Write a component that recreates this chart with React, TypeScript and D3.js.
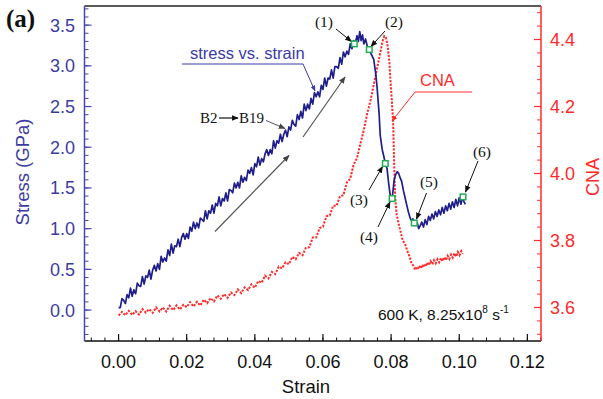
import React from "react";
import * as d3 from "d3";

// ---------- data ----------
const stressStrain = [
  0, 0.0005, 0.001, 0.0015, 0.002, 0.0025, 0.003, 0.0035, 0.004, 0.0045,
  0.005, 0.0055, 0.006, 0.0065, 0.007, 0.0075, 0.008, 0.0085, 0.009, 0.0095,
  0.01, 0.0105, 0.011, 0.0115, 0.012, 0.0125, 0.013, 0.0135, 0.014, 0.0145,
  0.015, 0.0155, 0.016, 0.0165, 0.017, 0.0175, 0.018, 0.0185, 0.019, 0.0195,
  0.02, 0.0205, 0.021, 0.0215, 0.022, 0.0225, 0.023, 0.0235, 0.024, 0.0245,
  0.025, 0.0255, 0.026, 0.0265, 0.027, 0.0275, 0.028, 0.0285, 0.029, 0.0295,
  0.03, 0.0305, 0.031, 0.0315, 0.032, 0.0325, 0.033, 0.0335, 0.034, 0.0345,
  0.035, 0.0355, 0.036, 0.0365, 0.037, 0.0375, 0.038, 0.0385, 0.039, 0.0395,
  0.04, 0.0405, 0.041, 0.0415, 0.042, 0.0425, 0.043, 0.0435, 0.044, 0.0445,
  0.045, 0.0455, 0.046, 0.0465, 0.047, 0.0475, 0.048, 0.0485, 0.049, 0.0495,
  0.05, 0.0505, 0.051, 0.0515, 0.052, 0.0525, 0.053, 0.0535, 0.054, 0.0545,
  0.055, 0.0555, 0.056, 0.0565, 0.057, 0.0575, 0.058, 0.0585, 0.059, 0.0595,
  0.06, 0.0605, 0.061, 0.0615, 0.062, 0.0625, 0.063, 0.0635, 0.064, 0.0645,
  0.065, 0.0655, 0.066, 0.0665, 0.067, 0.0675, 0.068, 0.0685, 0.069, 0.0695,
  0.07, 0.0704, 0.0708, 0.0712, 0.0716, 0.072, 0.0725, 0.073, 0.0736, 0.0742,
  0.0749, 0.0755, 0.0759, 0.0765, 0.0768, 0.0774, 0.0779, 0.0783, 0.0788, 0.0793,
  0.0798, 0.0803, 0.0806, 0.0809, 0.0813, 0.0818, 0.0822, 0.0827, 0.0831, 0.0836,
  0.0841, 0.0847, 0.0851, 0.0856, 0.086, 0.0864, 0.0868, 0.0872, 0.0877, 0.0881,
  0.0886, 0.089, 0.0895, 0.09, 0.0905, 0.091, 0.0915, 0.092, 0.0925, 0.093,
  0.0935, 0.094, 0.0945, 0.095, 0.0955, 0.096, 0.0965, 0.097, 0.0975, 0.098,
  0.0985, 0.099, 0.0995, 0.1, 0.1005, 0.101, 0.1014, 0.1018,
];
const stressValues = [
  0.03, 0.03, 0.14, 0.12, 0.08, 0.19, 0.15, 0.27, 0.17, 0.25,
  0.2, 0.33, 0.3, 0.29, 0.41, 0.32, 0.42, 0.4, 0.49, 0.38,
  0.49, 0.55, 0.48, 0.57, 0.5, 0.66, 0.59, 0.64, 0.6, 0.74,
  0.67, 0.81, 0.7, 0.79, 0.78, 0.87, 0.78, 0.89, 0.94, 0.87,
  0.94, 0.88, 1.02, 0.97, 1.08, 1.0, 1.07, 1.01, 1.13, 1.11,
  1.09, 1.22, 1.12, 1.22, 1.19, 1.29, 1.19, 1.31, 1.28, 1.39,
  1.28, 1.37, 1.34, 1.44, 1.34, 1.48, 1.47, 1.44, 1.56, 1.5,
  1.57, 1.5, 1.65, 1.57, 1.63, 1.59, 1.72, 1.68, 1.75, 1.66,
  1.8, 1.76, 1.88, 1.78, 1.86, 1.82, 1.92, 1.97, 1.9, 1.97,
  1.92, 2.08, 1.99, 2.08, 2.05, 2.16, 2.07, 2.16, 2.21, 2.13,
  2.25, 2.21, 2.33, 2.28, 2.26, 2.4, 2.34, 2.44, 2.36, 2.53,
  2.45, 2.53, 2.47, 2.6, 2.53, 2.67, 2.62, 2.68, 2.62, 2.76,
  2.71, 2.85, 2.75, 2.85, 2.84, 2.95, 2.85, 2.99, 2.99, 2.97,
  3.1, 3.02, 3.17, 3.11, 3.18, 3.14, 3.27, 3.21, 3.31, 3.28,
  3.37, 3.3, 3.42, 3.31, 3.38, 3.27, 3.33, 3.24, 3.2, 3.14,
  3.08, 2.9, 2.73, 2.4, 2.15, 1.97, 1.88, 1.8, 1.74, 1.55,
  1.39, 1.37, 1.48, 1.6, 1.66, 1.7, 1.68, 1.62, 1.58, 1.47,
  1.38, 1.27, 1.2, 1.13, 1.1, 1.12, 1.07, 1.04, 1.07, 1.0,
  1.04, 1.08, 1.02, 1.11, 1.05, 1.15, 1.1, 1.18, 1.12, 1.21,
  1.15, 1.23, 1.17, 1.26, 1.19, 1.28, 1.22, 1.31, 1.24, 1.33,
  1.26, 1.36, 1.28, 1.38, 1.3, 1.39, 1.33, 1.3,
];

const cnaStrain = [
  0, 0.001, 0.002, 0.003, 0.004, 0.005, 0.006, 0.007, 0.008, 0.009,
  0.01, 0.011, 0.012, 0.013, 0.014, 0.015, 0.016, 0.017, 0.018, 0.019,
  0.02, 0.021, 0.022, 0.023, 0.024, 0.025, 0.026, 0.027, 0.028, 0.029,
  0.03, 0.031, 0.032, 0.033, 0.034, 0.035, 0.036, 0.037, 0.038, 0.039,
  0.04, 0.041, 0.042, 0.043, 0.044, 0.045, 0.046, 0.047, 0.048, 0.049,
  0.05, 0.051, 0.052, 0.053, 0.054, 0.055, 0.056, 0.057, 0.058, 0.059,
  0.06, 0.061, 0.062, 0.063, 0.064, 0.065, 0.066, 0.067, 0.068, 0.069,
  0.07, 0.071, 0.072, 0.073, 0.074, 0.075, 0.076, 0.077, 0.0775, 0.078,
  0.0785, 0.079, 0.0795, 0.0798, 0.0802, 0.0806, 0.0809, 0.0812, 0.0816, 0.0822,
  0.0827, 0.0834, 0.0841, 0.0847, 0.0853, 0.0859, 0.0865, 0.0871, 0.0876, 0.0881,
  0.0886, 0.0891, 0.0896, 0.0901, 0.0906, 0.0911, 0.0916, 0.0921, 0.0926, 0.0931,
  0.0936, 0.0941, 0.0946, 0.0951, 0.0956, 0.0961, 0.0966, 0.0971, 0.0976, 0.0981,
  0.0986, 0.0991, 0.0996, 0.1001, 0.1006, 0.101,
];
const cnaValues = [
  3.576, 3.587, 3.577, 3.59, 3.578, 3.589, 3.579, 3.595, 3.585, 3.595,
  3.584, 3.6, 3.588, 3.6, 3.588, 3.605, 3.592, 3.606, 3.594, 3.608,
  3.601, 3.616, 3.603, 3.617, 3.606, 3.623, 3.613, 3.628, 3.618, 3.636,
  3.626, 3.64, 3.629, 3.645, 3.637, 3.654, 3.643, 3.66, 3.652, 3.669,
  3.659, 3.679, 3.674, 3.695, 3.687, 3.706, 3.7, 3.722, 3.717, 3.735,
  3.729, 3.751, 3.744, 3.763, 3.756, 3.778, 3.78, 3.809, 3.809, 3.837,
  3.841, 3.872, 3.875, 3.904, 3.904, 3.932, 3.935, 3.973, 3.984, 4.027,
  4.046, 4.09, 4.13, 4.18, 4.22, 4.27, 4.32, 4.37, 4.395, 4.41,
  4.405, 4.38, 4.33, 4.28, 4.22, 4.15, 4.03, 3.93, 3.88, 3.85,
  3.83, 3.8, 3.79, 3.77, 3.755, 3.735, 3.725, 3.712, 3.722, 3.715,
  3.726, 3.718, 3.73, 3.722, 3.734, 3.726, 3.738, 3.729, 3.741, 3.732,
  3.744, 3.735, 3.748, 3.738, 3.75, 3.741, 3.754, 3.745, 3.758, 3.749,
  3.762, 3.752, 3.766, 3.756, 3.768, 3.76,
];

const pointLabels = ["(1)", "(2)", "(3)", "(4)", "(5)", "(6)"];
const pointStrain = [0.0692, 0.0736, 0.0783, 0.0803, 0.0868, 0.1011];
const pointStress = [3.27, 3.2, 1.8, 1.37, 1.07, 1.39];

const xTicks = [0, 0.02, 0.04, 0.06, 0.08, 0.1, 0.12];
const stressTicks = [0, 0.5, 1, 1.5, 2, 2.5, 3, 3.5];
const cnaTicks = [3.6, 3.8, 4.0, 4.2, 4.4];

// ---------- layout ----------
const W = 603;
const H = 399;
const L = 84.5, R = 541, T = 6, B = 341;

const BLUE_AX = "#4848aa";
const BLUE_TXT = "#3c3ca0";
const BLUE_LINE = "#1f1f8c";
const RED = "#ff2a2a";
const SANS = "'Liberation Sans', Arial, sans-serif";
const SERIF = "'Liberation Serif', 'Times New Roman', serif";

export default function App() {
  const x = d3.scaleLinear().domain([-0.01, 0.124]).range([L, R]);
  const yS = d3.scaleLinear().domain([-0.38, 3.735]).range([B, T]);
  const yC = d3.scaleLinear().domain([3.5, 4.5]).range([B, T]);

  const stressLine = d3
    .line<number>()
    .x((_, i) => x(stressStrain[i]))
    .y((d) => yS(d));
  const cnaLine = d3
    .line<number>()
    .x((_, i) => x(cnaStrain[i]))
    .y((d) => yC(d));

  const xMinor = d3.range(-0.008, 0.1241, 0.004);
  const sMinor = d3.range(-0.3, 3.73, 0.1);
  const cMinor = d3.range(3.52, 4.5, 0.04);

  const annArrows: [number, number, number, number][] = [
    [336, 29, 351.5, 41.5],
    [385, 31, 371, 46.5],
    [369, 190, 382.5, 166.5],
    [378, 227, 390, 202],
    [426.5, 193, 416.5, 219],
    [478, 161, 465.5, 192],
  ];
  const annText: [number, number][] = [
    [324, 27],
    [394, 27],
    [359, 205],
    [369, 242],
    [429, 187],
    [482, 157],
  ];

  return (
    <svg
      width={W}
      height={H}
      style={{ position: "absolute", left: 0, top: 0, background: "#fff" }}
    >
      <defs>
        <marker id="ahK" viewBox="0 0 10 10" refX="9" refY="5" markerWidth="7" markerHeight="7" markerUnits="userSpaceOnUse" orient="auto">
          <path d="M0,1 L10,5 L0,9 z" fill="#111" />
        </marker>
        <marker id="ahG" viewBox="0 0 10 10" refX="9" refY="5" markerWidth="7" markerHeight="7" markerUnits="userSpaceOnUse" orient="auto">
          <path d="M0,1 L10,5 L0,9 z" fill="#444" />
        </marker>
        <marker id="ahB" viewBox="0 0 10 10" refX="9" refY="5" markerWidth="6" markerHeight="6" markerUnits="userSpaceOnUse" orient="auto">
          <path d="M0,1 L10,5 L0,9 z" fill="#3a3aa8" />
        </marker>
        <marker id="ahR" viewBox="0 0 10 10" refX="9" refY="5" markerWidth="6" markerHeight="6" markerUnits="userSpaceOnUse" orient="auto">
          <path d="M0,1 L10,5 L0,9 z" fill={RED} />
        </marker>
      </defs>

      {/* frame top */}
      <line x1={L} x2={R} y1={T} y2={T} stroke="#222" strokeWidth={1.5} />

      {/* bottom axis */}
      <line x1={L} x2={R} y1={B} y2={B} stroke="#111" strokeWidth={1.5} />
      {xMinor.map((v, i) => (
        <line key={"xm" + i} x1={x(v)} x2={x(v)} y1={B} y2={B - 3.5} stroke="#111" strokeWidth={1} />
      ))}
      {xTicks.map((v) => (
        <g key={"xt" + v}>
          <line x1={x(v)} x2={x(v)} y1={B} y2={B - 7} stroke="#111" strokeWidth={1.2} />
          <text x={x(v)} y={368} textAnchor="middle" fontFamily={SANS} fontSize={18} fill="#111">
            {v.toFixed(2)}
          </text>
        </g>
      ))}
      <text x={306} y={393} textAnchor="middle" fontFamily={SANS} fontSize={18.5} fill="#111">
        Strain
      </text>

      {/* left axis */}
      <line x1={L} x2={L} y1={T} y2={B} stroke={BLUE_AX} strokeWidth={1.5} />
      {sMinor.map((v, i) => (
        <line key={"sm" + i} x1={L} x2={L + 4} y1={yS(v)} y2={yS(v)} stroke={BLUE_AX} strokeWidth={1} />
      ))}
      {stressTicks.map((v) => (
        <g key={"st" + v}>
          <line x1={L} x2={L + 7} y1={yS(v)} y2={yS(v)} stroke={BLUE_AX} strokeWidth={1.2} />
          <text x={75} y={yS(v)} dy="0.36em" textAnchor="end" fontFamily={SANS} fontSize={18} fill={BLUE_TXT}>
            {v.toFixed(1)}
          </text>
        </g>
      ))}
      <text
        transform="translate(22,172) rotate(-90)"
        dy="0.36em"
        textAnchor="middle"
        fontFamily={SANS}
        fontSize={18.5}
        fill={BLUE_TXT}
      >
        Stress (GPa)
      </text>

      {/* right axis */}
      <line x1={R} x2={R} y1={T} y2={B} stroke={RED} strokeWidth={1.5} />
      {cMinor.map((v, i) => (
        <line key={"cm" + i} x1={R} x2={R - 4} y1={yC(v)} y2={yC(v)} stroke={RED} strokeWidth={1} />
      ))}
      {cnaTicks.map((v) => (
        <g key={"ct" + v}>
          <line x1={R} x2={R - 7} y1={yC(v)} y2={yC(v)} stroke={RED} strokeWidth={1.2} />
          <text x={550} y={yC(v)} dy="0.36em" textAnchor="start" fontFamily={SANS} fontSize={18} fill={RED}>
            {v.toFixed(1)}
          </text>
        </g>
      ))}
      <text
        transform="translate(593,177) rotate(-90)"
        dy="0.36em"
        textAnchor="middle"
        fontFamily={SANS}
        fontSize={18}
        fill={RED}
      >
        CNA
      </text>

      {/* CNA curve */}
      <path d={cnaLine(cnaValues) || ""} fill="none" stroke={RED} strokeWidth={2} strokeDasharray="2.2,1.4" />

      {/* stress curve */}
      <path d={stressLine(stressValues) || ""} fill="none" stroke={BLUE_LINE} strokeWidth={1.7} strokeLinejoin="round" />

      {/* gray guide arrows */}
      <line x1={215} y1={231.5} x2={289} y2={155.5} stroke="#555" strokeWidth={1.2} markerEnd="url(#ahG)" />
      <line x1={303} y1={137} x2={345} y2={77} stroke="#555" strokeWidth={1.2} markerEnd="url(#ahG)" />

      {/* stress vs strain label */}
      <text x={190} y={59} fontFamily={SANS} fontSize={16.5} fill="#3a3aa8">
        stress vs. strain
      </text>
      <polyline points="182,64 303,64 315,91" fill="none" stroke="#3a3aa8" strokeWidth={1} markerEnd="url(#ahB)" />

      {/* CNA label */}
      <text x={420} y={86} fontFamily={SANS} fontSize={16.5} fill={RED}>
        CNA
      </text>
      <polyline points="472,92 415,92 392,121" fill="none" stroke={RED} strokeWidth={1} markerEnd="url(#ahR)" />

      {/* B2 -> B19 */}
      <text x={200} y={123} fontFamily={SERIF} fontSize={15} fill="#111">
        B2
      </text>
      <line x1={219} y1={118} x2={238} y2={118} stroke="#111" strokeWidth={1.2} markerEnd="url(#ahK)" />
      <text x={239} y={123} fontFamily={SERIF} fontSize={15} fill="#111">
        B19
      </text>
      <line x1={266} y1={120.5} x2={285} y2={128.5} stroke="#555" strokeWidth={1} markerEnd="url(#ahG)" />

      {/* numbered annotations */}
      {annArrows.map((a, i) => (
        <line key={"aa" + i} x1={a[0]} y1={a[1]} x2={a[2]} y2={a[3]} stroke="#111" strokeWidth={1} markerEnd="url(#ahK)" />
      ))}
      {annText.map((p, i) => (
        <text key={"at" + i} x={p[0]} y={p[1]} textAnchor="middle" fontFamily={SERIF} fontSize={15.5} fill="#111">
          {pointLabels[i]}
        </text>
      ))}

      {/* markers */}
      {pointStrain.map((s, i) => (
        <rect
          key={"pm" + i}
          x={x(s) - 2.8}
          y={yS(pointStress[i]) - 2.8}
          width={5.6}
          height={5.6}
          fill="#fff"
          stroke="#22aa55"
          strokeWidth={1.5}
        />
      ))}

      {/* condition text */}
      <text x={378} y={320} fontFamily={SANS} fontSize={15.5} fill="#111">
        600 K, 8.25x10
        <tspan fontSize={10} dy={-7}>8</tspan>
        <tspan dy={7}> s</tspan>
        <tspan fontSize={10} dy={-7}>-1</tspan>
      </text>

      {/* panel label */}
      <text x={6} y={27} fontFamily={SERIF} fontSize={25} fontWeight="bold" fill="#111">
        (a)
      </text>
    </svg>
  );
}
